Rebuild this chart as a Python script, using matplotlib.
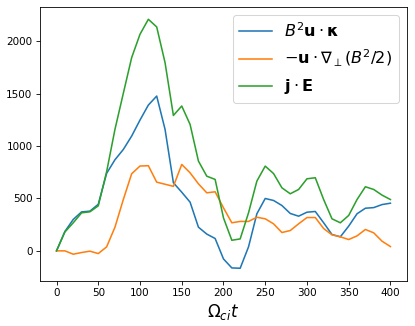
import matplotlib
matplotlib.use("Agg")
import matplotlib.pyplot as plt
import numpy as np

t = np.arange(0, 410, 10)

curv = [0, 185, 300, 372, 379, 445, 740, 870, 968, 1096, 1249, 1392, 1478, 1160, 650,
        560, 465, 226, 160, 118, -77, -163, -166, 38, 354, 500, 481, 433, 357, 331,
        369, 376, 268, 156, 134, 236, 354, 407, 413, 442, 455]
press = [0, 0, -32, -16, -3, -26, 38, 226, 490, 736, 810, 813, 656, 636, 616,
         825, 745, 640, 554, 564, 411, 268, 281, 281, 321, 306, 258, 175, 194, 258,
         318, 318, 213, 153, 134, 108, 143, 204, 172, 92, 41]
jdote = [0, 180, 268, 363, 373, 430, 755, 1160, 1504, 1845, 2068, 2211, 2138, 1797, 1293,
         1383, 1207, 857, 713, 682, 315, 101, 114, 363, 666, 809, 738, 602, 545, 586,
         688, 698, 490, 306, 268, 338, 490, 612, 586, 532, 490]

labels = [r'$B^2\mathbf{u}\cdot\mathbf{\kappa}$',
          r'$-\mathbf{u}\cdot\nabla_\perp(B^2/2)$',
          r'$\mathbf{j}\cdot\mathbf{E}$']

fig = plt.figure(figsize=(415 / 75, 326 / 75), dpi=75)
ax = fig.add_axes([0.096, 0.139, 0.885, 0.840])

ax.plot(t, curv, label=labels[0])
ax.plot(t, press, label=labels[1])
ax.plot(t, jdote, label=labels[2])

ax.set_xlabel(r'$\Omega_{ci}t$', fontsize=16)
ax.legend(fontsize=15.5, loc='upper right')

fig.savefig('out.png', dpi=75)
